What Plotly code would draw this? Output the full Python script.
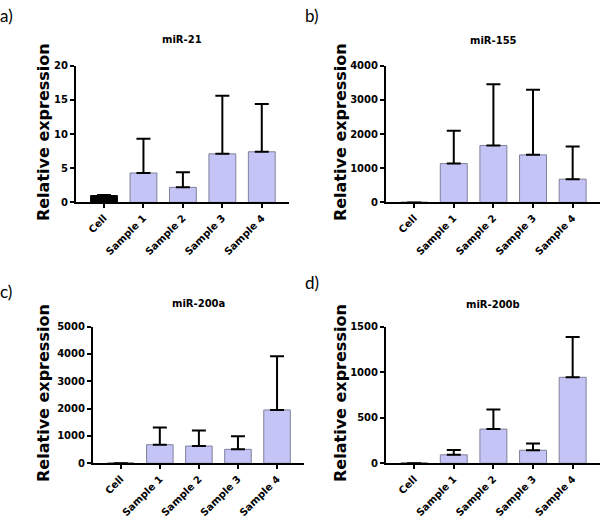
import plotly.graph_objects as go

categories = ["Cell", "Sample 1", "Sample 2", "Sample 3", "Sample 4"]

mir21_mean = [1.0, 4.3, 2.2, 7.1, 7.4]
mir21_err = [0.1, 5.0, 2.2, 8.5, 7.0]

mir155_mean = [1, 1135, 1665, 1390, 680]
mir155_err = [None, 960, 1792, 1905, 958]

mir200a_mean = [1, 680, 630, 510, 1950]
mir200a_err = [None, 630, 570, 480, 1965]

mir200b_mean = [1, 93, 375, 143, 943]
mir200b_err = [None, 53, 214, 75, 443]

titles = ["miR-21", "miR-155", "miR-200a", "miR-200b"]
panel_labels = ["a)", "b)", "c)", "d)"]
y_max = [20, 4000, 5000, 1500]
y_dtick = [5, 1000, 1000, 500]

W, H = 600, 525
BAR = "#C4C4F7"
BORDER = "#80809A"
FONT = "DejaVu Sans"

# pixel layout of each panel: (x0, x1, ytop, ybottom)
boxes = [(76, 289, 61, 201), (386, 600, 61, 201), (93, 304, 328, 468), (386, 600, 328, 468)]
ytitle_x = [43, 340, 44, 341]
title_y = [34, 35, 304, 305]
label_pos = [(6, 10), (312, 10), (6, 292), (312, 283)]

series = [(mir21_mean, mir21_err), (mir155_mean, mir155_err),
          (mir200a_mean, mir200a_err), (mir200b_mean, mir200b_err)]

fig = go.Figure()
annotations = []
for i, ((mean, err), box) in enumerate(zip(series, boxes)):
    sfx = "" if i == 0 else str(i + 1)
    colors = ["black" if c == "Cell" else BAR for c in categories]
    lcolors = ["black" if c == "Cell" else BORDER for c in categories]
    fig.add_trace(go.Bar(
        x=categories, y=mean,
        marker=dict(color=colors, line=dict(color=lcolors, width=1)),
        error_y=dict(type="data", array=err, arrayminus=[0] * len(err),
                     symmetric=False, color="black", thickness=2, width=7),
        xaxis="x" + sfx, yaxis="y" + sfx, showlegend=False,
    ))
    x0, x1, yt, yb = box
    fig.layout["xaxis" + sfx] = dict(
        domain=[x0 / W, x1 / W], anchor="y" + sfx, range=[-0.71, 4.69],
        showline=True, linecolor="black", linewidth=2, ticks="outside",
        ticklen=4, tickwidth=2, tickcolor="black", tickangle=-45,
        tickfont=dict(family=FONT, size=10, color="black", weight="bold"),
        showgrid=False, zeroline=False, fixedrange=True,
    )
    fig.layout["yaxis" + sfx] = dict(
        domain=[1 - yb / H, 1 - yt / H], anchor="x" + sfx,
        range=[0, y_max[i]], dtick=y_dtick[i], tick0=0,
        showline=True, linecolor="black", linewidth=2, ticks="outside",
        ticklen=4, tickwidth=2, tickcolor="black",
        tickfont=dict(family=FONT, size=10, color="black", weight="bold"),
        showgrid=False, zeroline=False, fixedrange=True,
    )
    annotations.append(dict(
        text=titles[i], x=(x0 + x1) / 2 / W, y=1 - title_y[i] / H,
        xref="paper", yref="paper", showarrow=False, xanchor="center", yanchor="middle",
        font=dict(family=FONT, size=10, color="black", weight="bold"),
    ))
    annotations.append(dict(
        text="Relative expression", x=ytitle_x[i] / W, y=1 - ((yt + yb) / 2 - 2) / H,
        xref="paper", yref="paper", showarrow=False, textangle=-90,
        xanchor="center", yanchor="middle",
        font=dict(family=FONT, size=16, color="black", weight="bold"),
    ))
    lx, ly = label_pos[i]
    annotations.append(dict(
        text=panel_labels[i], x=lx / W, y=1 - ly / H,
        xref="paper", yref="paper", showarrow=False, xanchor="center", yanchor="middle",
        font=dict(family="Lato", size=17, color="black"),
    ))

fig.update_layout(
    width=W, height=H, margin=dict(l=0, r=0, t=0, b=0),
    paper_bgcolor="white", plot_bgcolor="white",
    bargap=0.32, annotations=annotations, hovermode=False,
)

fig.write_html(
    "out.html",
    config={"displayModeBar": False, "staticPlot": True},
    post_script="document.body.style.margin='0';document.body.style.overflow='hidden';",
)
